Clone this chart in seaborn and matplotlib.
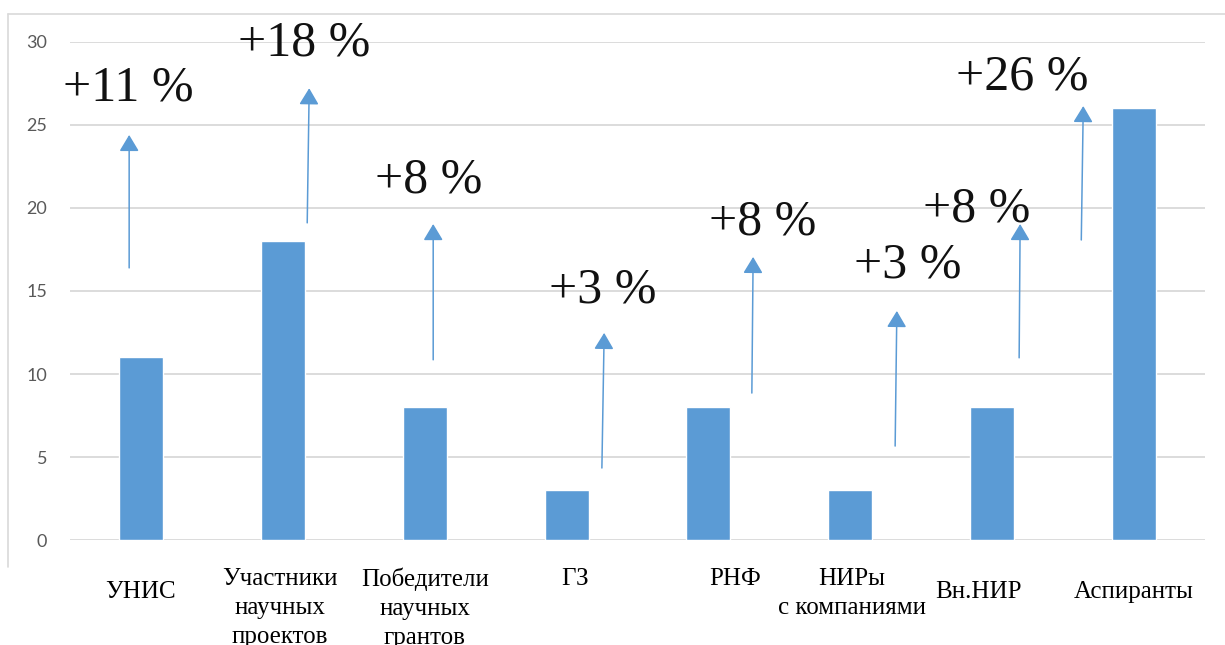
import matplotlib
matplotlib.use("Agg")
import matplotlib.pyplot as plt
from matplotlib.lines import Line2D
import seaborn as sns
import pandas as pd

# ---- data ----
categories = ["УНИС", "Участники\nнаучных\nпроектов", "Победители\nнаучных\nгрантов",
              "ГЗ", "РНФ", "НИРы\nс компаниями", "Вн.НИР", "Аспиранты"]
values = [11, 18, 8, 3, 8, 3, 8, 26]
growth_labels = ["+11 %", "+18 %", "+8 %", "+3 %", "+8 %", "+3 %", "+8 %", "+26 %"]
y_ticks = [0, 5, 10, 15, 20, 25, 30]

# arrow geometry (data units)
arrow_x0 = [-0.083, 1.172, 2.06, 3.249, 4.306, 5.316, 6.19, 6.628]
arrow_x1 = [-0.083, 1.186, 2.06, 3.265, 4.315, 5.328, 6.197, 6.642]
arrow_y0 = [16.39, 19.10, 10.86, 4.35, 8.86, 5.67, 10.98, 18.07]
arrow_y1 = [24.39, 27.20, 19.03, 12.48, 17.05, 13.80, 19.03, 26.13]
# growth label anchor (centre x, baseline y)
label_x = [-0.09, 1.15, 2.03, 3.258, 4.379, 5.408, 5.894, 6.21]
label_y = [26.46, 29.17, 20.93, 14.31, 18.40, 15.81, 19.21, 27.12]

# category label tweaks (x offset in data units, top offset in points)
cat_dx = [0.0, -0.02, 0.0, 0.06, 0.19, 0.01, -0.10, 0.0]
cat_dy = [29.3, 19.6, 19.6, 19.6, 19.6, 19.6, 29.3, 29.3]

BAR = "#5B9BD5"
GRID = "#D9D9D9"

sns.set_theme(style="white")
fig = plt.figure(figsize=(12.25, 6.45), dpi=100)
ax = fig.add_axes([70 / 1225, 1 - 540.3 / 645, 1135 / 1225, 498.6 / 645])

df = pd.DataFrame({"cat": categories, "val": values})
sns.barplot(data=df, x="cat", y="val", color=BAR, saturation=1, width=0.31, ax=ax, zorder=3)

ax.set_xlim(-0.5, 7.5)
ax.set_ylim(0, 30)
ax.set_yticks(y_ticks)
ax.set_yticklabels([str(t) for t in y_ticks], fontfamily="Lato", fontsize=13, color="#595959")
ax.tick_params(axis="y", length=0, pad=16.5)
ax.set_xticks(range(len(categories)))
ax.set_xticklabels([""] * len(categories))
ax.tick_params(axis="x", length=0)
ax.set_xlabel("")
ax.set_ylabel("")
for s in ax.spines.values():
    s.set_visible(False)
ax.grid(False)
for t in y_ticks:
    ax.axhline(t, color=GRID, lw=1.3, zorder=1)

for i in range(len(categories)):
    ax.annotate("", xy=(arrow_x1[i], arrow_y1[i]), xytext=(arrow_x0[i], arrow_y0[i]),
                arrowprops=dict(arrowstyle="-|>,head_length=0.5,head_width=0.3",
                                mutation_scale=20, color=BAR, lw=1.1,
                                shrinkA=0, shrinkB=0),
                zorder=4, annotation_clip=False)
    ax.text(label_x[i], label_y[i], growth_labels[i], fontfamily="Liberation Serif",
            fontsize=36, color="#111111", ha="center", va="baseline", zorder=5, clip_on=False)
    ax.annotate(categories[i], xy=(i + cat_dx[i], 0), xytext=(0, -cat_dy[i]),
                textcoords="offset points", ha="center", va="top", multialignment="center",
                fontfamily="Liberation Serif", fontsize=18, color="#000000",
                linespacing=1.42, annotation_clip=False)

# outer chart frame (top and left edges visible)
fig.add_artist(Line2D([8 / 1225, 1.0], [1 - 14 / 645, 1 - 14 / 645], color=GRID, lw=1.2))
fig.add_artist(Line2D([8 / 1225, 8 / 1225], [1 - 14 / 645, 1 - 567 / 645], color=GRID, lw=1.2))

fig.savefig("out.png", dpi=100, facecolor="white")
